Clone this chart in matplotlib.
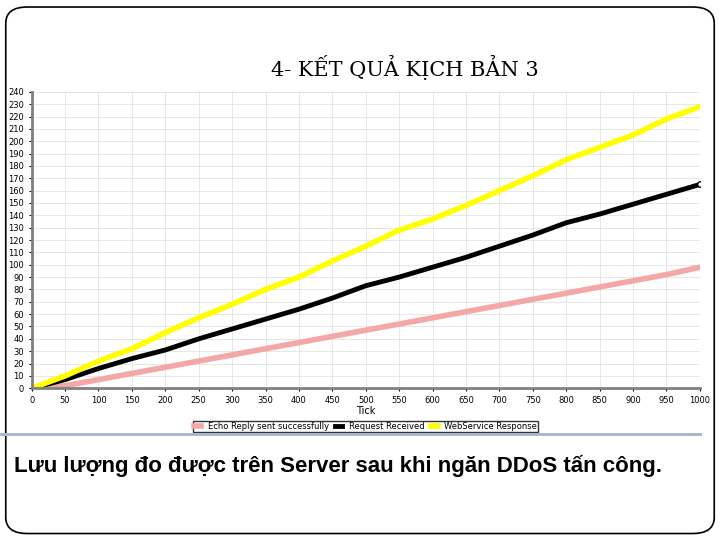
import matplotlib
matplotlib.use("Agg")
import matplotlib.pyplot as plt
from matplotlib.patches import FancyBboxPatch, Rectangle

ticks = [0,50,100,150,200,250,300,350,400,450,500,550,600,650,700,750,800,850,900,950,1000]
web = [0,10,22,32,45,57,68,80,90,103,115,128,137,148,160,172,185,195,205,218,228]
req = [0,7,16,24,31,40,48,56,64,73,83,90,98,106,115,124,134,141,149,157,165]
echo = [0,2,7,12,17,22,27,32,37,42,47,52,57,62,67,72,77,82,87,92,98]
series_names = ["Echo Reply sent successfully", "Request Received", "WebService Response"]

fig = plt.figure(figsize=(7.2, 5.4), dpi=100)
fig.patches.append(FancyBboxPatch((0.008, 0.012), 0.984, 0.975, boxstyle="round,pad=0,rounding_size=0.03",
                                  transform=fig.transFigure, fill=False, ec="black", lw=1.2))
fig.patches.append(Rectangle((0.0, 0.193), 0.975, 0.006, transform=fig.transFigure, color="#a9b9cc", lw=0))
fig.text(0.563, 0.875, "4- KẾT QUẢ KỊCH BẢN 3", ha="center", va="center", family="DejaVu Serif", fontsize=15)
fig.text(0.02, 0.137, "Lưu lượng đo được trên Server sau khi ngăn DDoS tấn công.", ha="left", va="center",
         family="Liberation Sans", fontweight="bold", fontsize=16)

ax = fig.add_axes([0.044, 0.281, 0.928, 0.549])
ax.plot(ticks, echo, color="#f4a7a7", lw=4, label=series_names[0])
ax.plot(ticks, req, color="black", lw=3.5, label=series_names[1])
ax.plot(ticks, web, color="#ffff00", lw=4, label=series_names[2])
ax.plot([1000], [165], "o", mfc="white", mec="black", ms=4)
ax.set_xlim(0, 1000)
ax.set_ylim(0, 240)
ax.set_xticks(range(0, 1001, 50))
ax.set_yticks(range(0, 241, 10))
ax.tick_params(labelsize=6, length=2)
ax.grid(True, color="#e3e3e3", lw=0.6)
ax.set_xlabel("Tick", fontsize=7, labelpad=1)
for s in ["top", "right"]:
    ax.spines[s].set_visible(False)
ax.spines["left"].set_color("gray"); ax.spines["left"].set_linewidth(2)
ax.spines["bottom"].set_color("gray"); ax.spines["bottom"].set_linewidth(2)
ax.legend(loc="upper center", bbox_to_anchor=(0.5, -0.095), ncol=3, fontsize=6, frameon=True, fancybox=False,
          edgecolor="black", handlelength=0.8, handleheight=0.5, columnspacing=0.8, borderpad=0.15)
fig.savefig("out.png")
